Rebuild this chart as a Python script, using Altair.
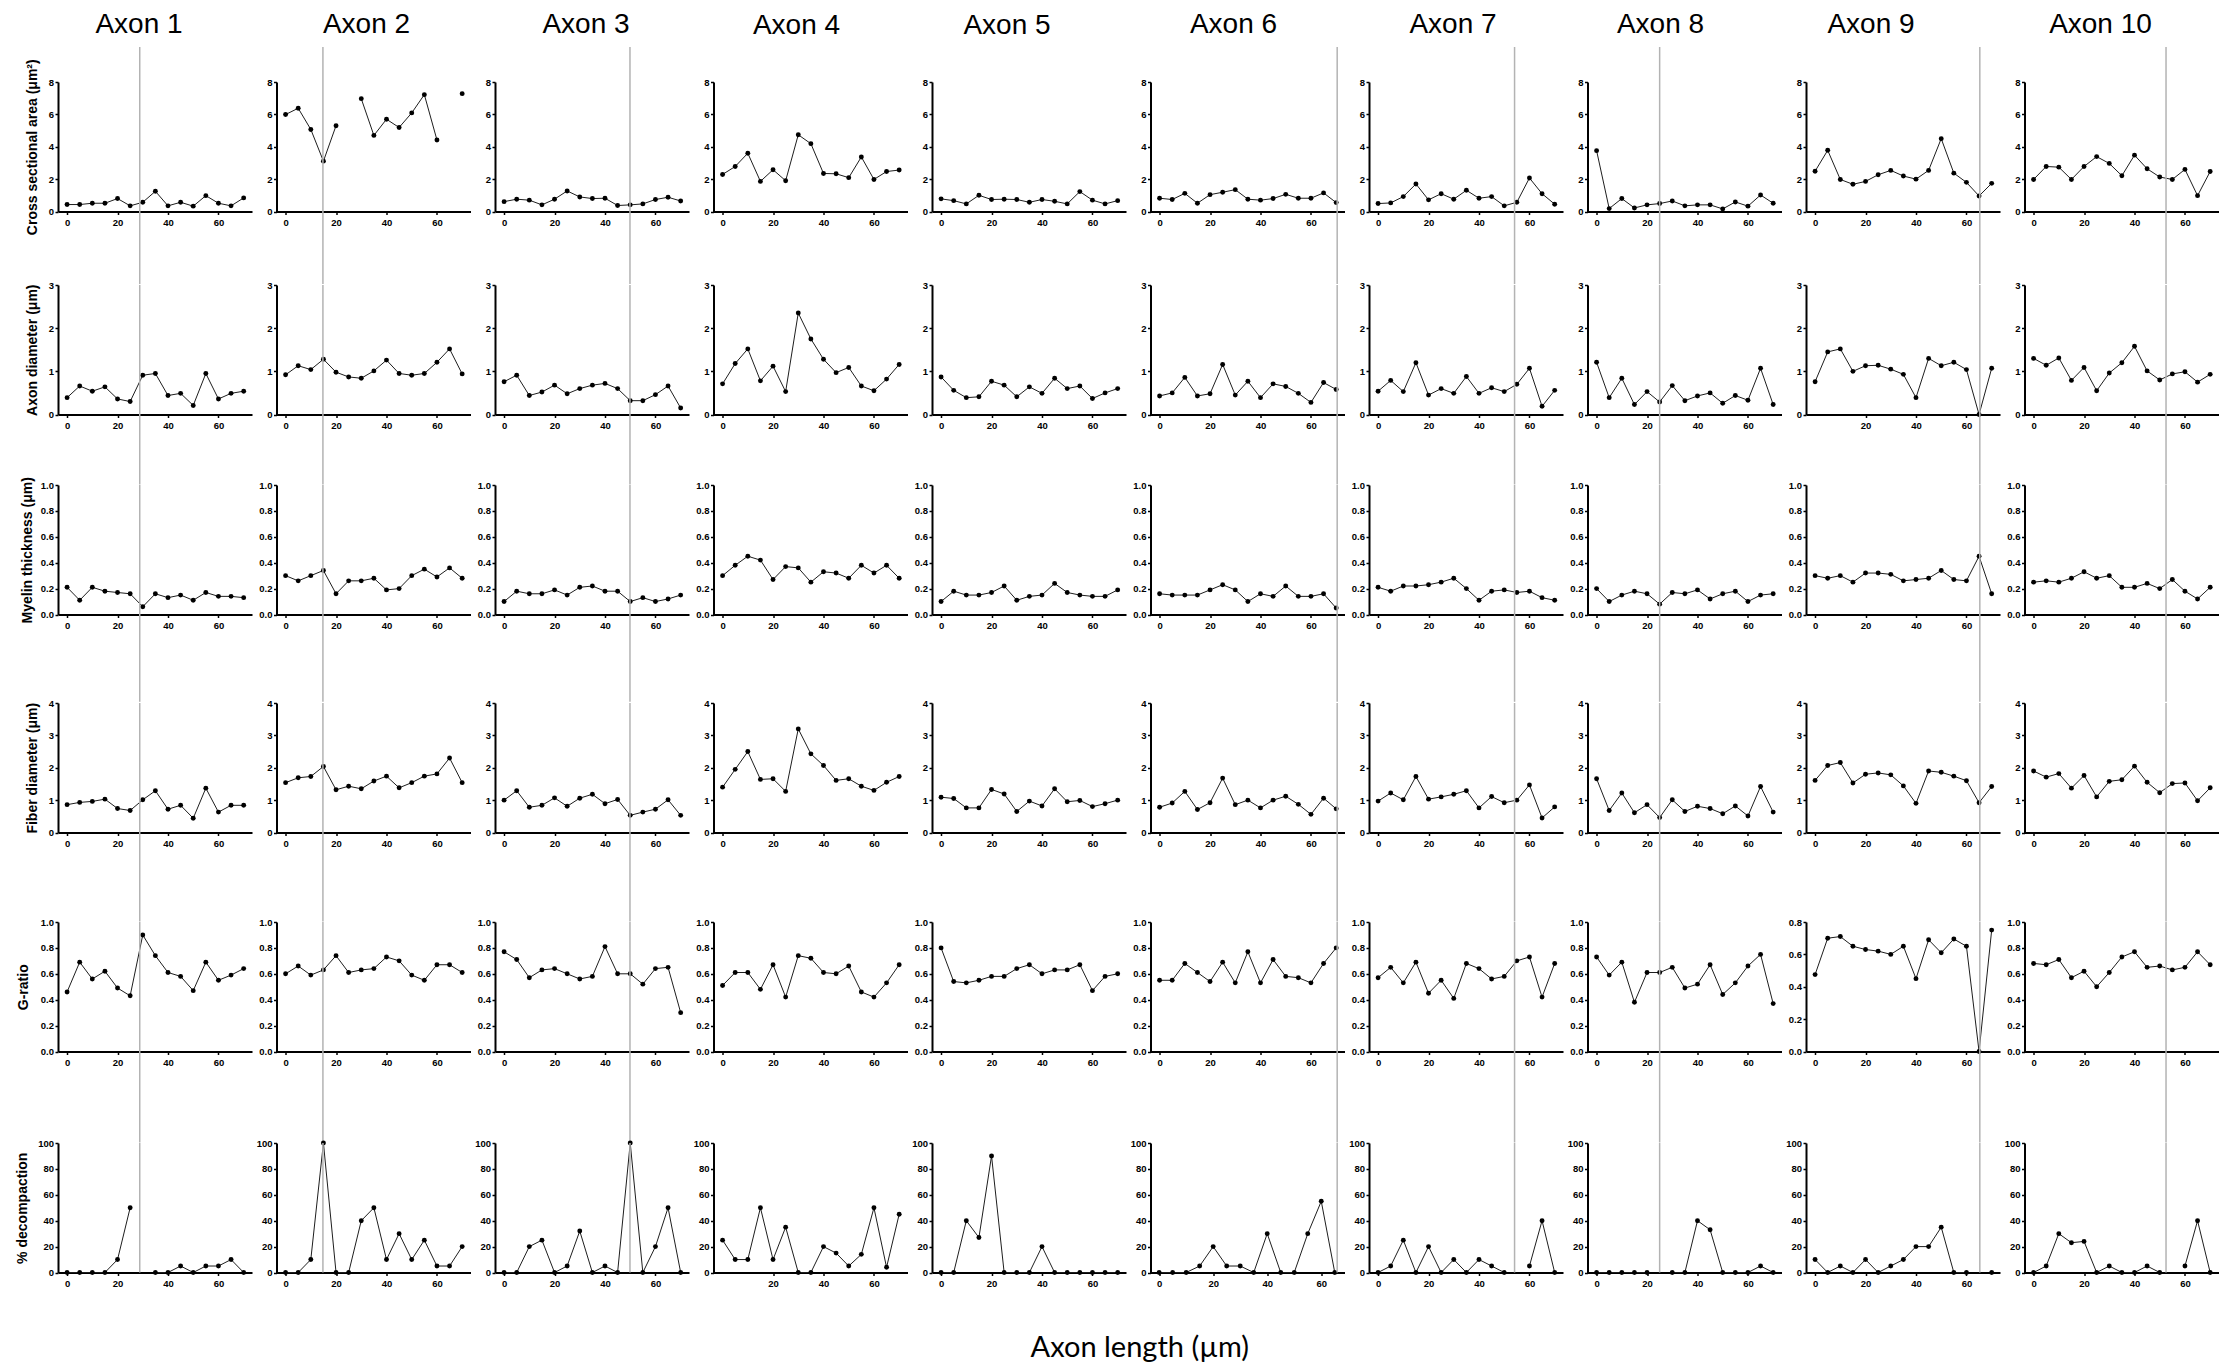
import altair as alt
import pandas as pd

# ---------------- data ----------------
X = [0, 5, 10, 15, 20, 25, 30, 35, 40, 45, 50, 55, 60, 65, 70]
AXONS = ["Axon 1", "Axon 2", "Axon 3", "Axon 4", "Axon 5",
         "Axon 6", "Axon 7", "Axon 8", "Axon 9", "Axon 10"]

# Cross sectional area (um^2); None = no measurement (gap in the line)
CSA = [
    [0.43, 0.43, 0.51, 0.51, 0.80, 0.35, 0.57, 1.25, 0.35, 0.57, 0.33, 0.98, 0.51, 0.35, 0.84],
    [5.99, 6.38, 5.07, 3.11, 5.30, None, 6.97, 4.70, 5.70, 5.19, 6.09, 7.22, 4.42, None, 7.28],
    [0.61, 0.76, 0.70, 0.41, 0.76, 1.27, 0.90, 0.80, 0.82, 0.37, 0.41, 0.47, 0.74, 0.88, 0.65],
    [2.29, 2.78, 3.60, 1.86, 2.58, 1.90, 4.74, 4.19, 2.35, 2.33, 2.09, 3.37, 1.98, 2.47, 2.56],
    [0.78, 0.67, 0.47, 1.00, 0.74, 0.76, 0.74, 0.57, 0.74, 0.63, 0.47, 1.23, 0.70, 0.47, 0.67],
    [0.82, 0.74, 1.12, 0.51, 1.04, 1.19, 1.35, 0.76, 0.70, 0.80, 1.06, 0.82, 0.82, 1.15, 0.55],
    [0.49, 0.53, 0.92, 1.70, 0.72, 1.10, 0.76, 1.31, 0.82, 0.92, 0.35, 0.57, 2.07, 1.10, 0.45],
    [3.76, 0.18, 0.80, 0.22, 0.41, 0.49, 0.65, 0.35, 0.41, 0.41, 0.16, 0.59, 0.33, 1.02, 0.51],
    [2.49, 3.78, 1.98, 1.68, 1.86, 2.27, 2.54, 2.19, 2.00, 2.54, 4.50, 2.37, 1.80, 0.96, 1.74],
    [1.98, 2.78, 2.74, 1.98, 2.78, 3.39, 2.97, 2.21, 3.48, 2.64, 2.13, 1.98, 2.60, 0.98, 2.47],
]

# Axon diameter (um)
AD = [
    [0.39, 0.66, 0.54, 0.64, 0.36, 0.30, 0.91, 0.95, 0.44, 0.49, 0.21, 0.95, 0.36, 0.49, 0.54],
    [0.92, 1.13, 1.04, 1.28, 0.98, 0.87, 0.84, 1.01, 1.26, 0.95, 0.91, 0.95, 1.21, 1.52, 0.94],
    [0.76, 0.91, 0.44, 0.52, 0.68, 0.48, 0.60, 0.68, 0.72, 0.60, 0.32, 0.32, 0.46, 0.66, 0.15],
    [0.71, 1.18, 1.52, 0.78, 1.12, 0.53, 2.35, 1.75, 1.28, 0.97, 1.09, 0.66, 0.55, 0.82, 1.16],
    [0.87, 0.56, 0.39, 0.41, 0.77, 0.68, 0.41, 0.64, 0.49, 0.84, 0.60, 0.66, 0.37, 0.50, 0.60],
    [0.43, 0.50, 0.86, 0.43, 0.48, 1.16, 0.45, 0.77, 0.39, 0.71, 0.65, 0.49, 0.28, 0.74, 0.58],
    [0.54, 0.79, 0.53, 1.20, 0.45, 0.60, 0.49, 0.88, 0.49, 0.62, 0.53, 0.70, 1.07, 0.19, 0.56],
    [1.21, 0.39, 0.84, 0.23, 0.53, 0.29, 0.67, 0.32, 0.43, 0.50, 0.26, 0.44, 0.33, 1.07, 0.23],
    [0.76, 1.45, 1.52, 1.00, 1.13, 1.14, 1.05, 0.93, 0.39, 1.30, 1.13, 1.21, 1.04, 0.00, 1.07],
    [1.30, 1.14, 1.31, 0.79, 1.09, 0.55, 0.96, 1.20, 1.58, 1.01, 0.80, 0.94, 0.99, 0.75, 0.93],
]

# Myelin thickness (um)
MT = [
    [0.21, 0.11, 0.21, 0.18, 0.17, 0.16, 0.06, 0.16, 0.13, 0.15, 0.11, 0.17, 0.14, 0.14, 0.13],
    [0.30, 0.26, 0.30, 0.34, 0.16, 0.26, 0.26, 0.28, 0.19, 0.20, 0.30, 0.35, 0.29, 0.36, 0.28],
    [0.10, 0.18, 0.16, 0.16, 0.19, 0.15, 0.21, 0.22, 0.18, 0.18, 0.10, 0.13, 0.10, 0.12, 0.15],
    [0.30, 0.38, 0.45, 0.42, 0.27, 0.37, 0.36, 0.25, 0.33, 0.32, 0.28, 0.38, 0.32, 0.38, 0.28],
    [0.10, 0.18, 0.15, 0.15, 0.17, 0.22, 0.11, 0.14, 0.15, 0.24, 0.17, 0.15, 0.14, 0.14, 0.19],
    [0.16, 0.15, 0.15, 0.15, 0.19, 0.23, 0.19, 0.10, 0.16, 0.14, 0.22, 0.14, 0.14, 0.16, 0.05],
    [0.21, 0.18, 0.22, 0.22, 0.23, 0.25, 0.28, 0.20, 0.11, 0.18, 0.19, 0.17, 0.18, 0.13, 0.11],
    [0.20, 0.10, 0.15, 0.18, 0.16, 0.08, 0.17, 0.16, 0.19, 0.12, 0.16, 0.18, 0.10, 0.15, 0.16],
    [0.30, 0.28, 0.30, 0.25, 0.32, 0.32, 0.31, 0.26, 0.27, 0.28, 0.34, 0.27, 0.26, 0.45, 0.16],
    [0.25, 0.26, 0.25, 0.28, 0.33, 0.28, 0.30, 0.21, 0.21, 0.24, 0.20, 0.27, 0.18, 0.12, 0.21],
]

# Fiber diameter (um)
FD = [
    [0.86, 0.93, 0.96, 1.03, 0.74, 0.68, 1.01, 1.29, 0.72, 0.84, 0.44, 1.37, 0.63, 0.84, 0.84],
    [1.54, 1.69, 1.73, 2.04, 1.32, 1.43, 1.35, 1.59, 1.74, 1.38, 1.54, 1.74, 1.81, 2.30, 1.54],
    [1.00, 1.29, 0.78, 0.84, 1.07, 0.81, 1.06, 1.18, 0.89, 1.02, 0.53, 0.63, 0.72, 1.01, 0.53],
    [1.40, 1.95, 2.50, 1.64, 1.66, 1.27, 3.20, 2.43, 2.07, 1.61, 1.66, 1.43, 1.30, 1.55, 1.73],
    [1.09, 1.05, 0.76, 0.76, 1.33, 1.19, 0.65, 0.97, 0.82, 1.35, 0.95, 0.99, 0.80, 0.89, 1.00],
    [0.78, 0.91, 1.27, 0.71, 0.92, 1.68, 0.86, 1.00, 0.76, 1.00, 1.12, 0.87, 0.56, 1.06, 0.73],
    [0.97, 1.22, 1.01, 1.73, 1.03, 1.10, 1.18, 1.29, 0.76, 1.11, 0.92, 1.00, 1.47, 0.45, 0.79],
    [1.66, 0.68, 1.22, 0.61, 0.86, 0.46, 1.01, 0.65, 0.81, 0.74, 0.58, 0.82, 0.51, 1.42, 0.63],
    [1.61, 2.07, 2.16, 1.53, 1.80, 1.84, 1.78, 1.44, 0.90, 1.90, 1.86, 1.74, 1.60, 0.92, 1.42],
    [1.90, 1.71, 1.82, 1.37, 1.76, 1.10, 1.58, 1.63, 2.05, 1.55, 1.23, 1.51, 1.53, 0.98, 1.38],
]

# G-ratio
GR = [
    [0.46, 0.69, 0.56, 0.62, 0.49, 0.43, 0.90, 0.74, 0.61, 0.58, 0.47, 0.69, 0.55, 0.59, 0.64],
    [0.60, 0.66, 0.59, 0.63, 0.74, 0.61, 0.63, 0.64, 0.73, 0.70, 0.59, 0.55, 0.67, 0.67, 0.61],
    [0.77, 0.71, 0.57, 0.63, 0.64, 0.60, 0.56, 0.58, 0.81, 0.60, 0.60, 0.52, 0.64, 0.65, 0.30],
    [0.51, 0.61, 0.61, 0.48, 0.67, 0.42, 0.74, 0.72, 0.61, 0.60, 0.66, 0.46, 0.42, 0.53, 0.67],
    [0.80, 0.54, 0.53, 0.55, 0.58, 0.58, 0.64, 0.67, 0.60, 0.63, 0.63, 0.67, 0.47, 0.58, 0.60],
    [0.55, 0.55, 0.68, 0.61, 0.54, 0.69, 0.53, 0.77, 0.53, 0.71, 0.58, 0.57, 0.53, 0.68, 0.80],
    [0.57, 0.65, 0.53, 0.69, 0.45, 0.55, 0.41, 0.68, 0.64, 0.56, 0.58, 0.70, 0.73, 0.42, 0.68],
    [0.73, 0.59, 0.69, 0.38, 0.61, 0.61, 0.65, 0.49, 0.52, 0.67, 0.44, 0.53, 0.66, 0.75, 0.37],
    [0.475, 0.70, 0.71, 0.65, 0.63, 0.62, 0.60, 0.65, 0.45, 0.69, 0.61, 0.695, 0.65, 0.00, 0.75],
    [0.68, 0.67, 0.71, 0.57, 0.62, 0.50, 0.61, 0.73, 0.77, 0.65, 0.66, 0.63, 0.65, 0.77, 0.67],
]

# % decompaction
DC = [
    [0, 0, 0, 0, 10, 50, None, 0, 0, 5, 0, 5, 5, 10, 0],
    [0, 0, 10, 100, 0, 0, 40, 50, 10, 30, 10, 25, 5, 5, 20],
    [0, 0, 20, 25, 0, 5, 32, 0, 5, 0, 100, 0, 20, 50, 0],
    [25, 10, 10, 50, 10, 35, 0, 0, 20, 15, 5, 14, 50, 4, 45],
    [0, 0, 40, 27, 90, 0, 0, 0, 20, 0, 0, 0, 0, 0, 0],
    [0, 0, 0, 5, 20, 5, 5, 0, 30, 0, 0, 30, 55, 0, None],
    [0, 5, 25, 0, 20, 0, 10, 0, 10, 5, 0, None, 5, 40, 0],
    [0, 0, 0, 0, 0, None, 0, 0, 40, 33, 0, 0, 0, 5, 0],
    [10, 0, 5, 0, 10, 0, 5, 10, 20, 20, 35, 0, 0, None, 0],
    [0, 5, 30, 23, 24, 0, 5, 0, 0, 5, 0, None, 5, 40, 0],
]

METRICS = [CSA, AD, MT, FD, GR, DC]
METRIC_TITLES = [
    "Cross sectional area (μm²)",
    "Axon diameter (μm)",
    "Myelin thickness (μm)",
    "Fiber diameter (μm)",
    "G-ratio",
    "% decompaction",
]
Y_DOMAINS = [[0, 8], [0, 3], [0, 1], [0, 4], [0, 1], [0, 100]]
Y_TICKS = [
    [0, 2, 4, 6, 8],
    [0, 1, 2, 3],
    [0, 0.2, 0.4, 0.6, 0.8, 1.0],
    [0, 1, 2, 3, 4],
    [0, 0.2, 0.4, 0.6, 0.8, 1.0],
    [0, 20, 40, 60, 80, 100],
]
Y_FORMATS = ["d", "d", ".1f", "d", ".1f", "d"]
X_TICKS = [0, 20, 40, 60]
X_DOMAIN = [-3.6, 73.3]

# vertical reference line per axon (axon length, um); None = no line
VLINES = [28.8, 14.8, 49.9, None, None, 70.4, 54.1, 25.0, 65.3, 52.5]

# panel exceptions seen in the figure
AXON9_GRATIO_DOMAIN = [0, 0.8]
AXON9_GRATIO_TICKS = [0, 0.2, 0.4, 0.6, 0.8]
AXON6_DECOMP_XDOMAIN = [-3.2, 68.6]
NO_ZERO_LABEL = [(1, 8), (5, 3)]  # (row, axon index) without the "0" x label

# ---------------- layout ----------------
W = 194
H = 129.5
COL_GAP = 24.5
ROW_GAPS = [72.6, 70, 87.3, 89, 91]
RULE_TOP = -35
TITLE_CENTERS = [81, 90, 91, 83, 75, 83, 84, 73, 65, 76]
Y_TITLE_PAD = [9, 9, 6, 9, 9.5, 8.5]

AX_FONT = "Liberation Sans"


def make_panel(r, a):
    vals = METRICS[r][a]
    recs = []
    seg = 0
    for xv, yv in zip(X, vals):
        if yv is None:
            seg += 1
            continue
        recs.append({"x": xv, "y": yv, "seg": seg})
    df = pd.DataFrame(recs)

    special_x = (r == 5 and a == 5)
    xdom = AXON6_DECOMP_XDOMAIN if special_x else X_DOMAIN
    if r == 4 and a == 8:
        ydom, yticks = AXON9_GRATIO_DOMAIN, AXON9_GRATIO_TICKS
    else:
        ydom, yticks = Y_DOMAINS[r], Y_TICKS[r]
    xt = X_TICKS[1:] if (r, a) in NO_ZERO_LABEL else X_TICKS

    xscale = alt.Scale(domain=xdom, nice=False, zero=False)
    x_enc = alt.X("x:Q", scale=xscale,
                  axis=alt.Axis(values=xt, format="d", labelFlush=False),
                  title=None)
    yscale = alt.Scale(domain=ydom, nice=False, zero=False)
    if a == 0:
        y_enc = alt.Y("y:Q", scale=yscale,
                      axis=alt.Axis(values=yticks, format=Y_FORMATS[r],
                                    titlePadding=Y_TITLE_PAD[r]),
                      title=METRIC_TITLES[r])
    else:
        y_enc = alt.Y("y:Q", scale=yscale,
                      axis=alt.Axis(values=yticks, format=Y_FORMATS[r]),
                      title=None)

    line = alt.Chart(df).mark_line(color="#1e1e1e", strokeWidth=1).encode(
        x=x_enc, y=y_enc, detail="seg:N")
    pts = alt.Chart(df).mark_circle(color="black", size=24, opacity=1).encode(
        x=x_enc, y=y_enc)

    v = VLINES[a]
    if v is not None and special_x:
        frac = (v - X_DOMAIN[0]) / (X_DOMAIN[1] - X_DOMAIN[0])
        v = xdom[0] + frac * (xdom[1] - xdom[0])
    rdf = pd.DataFrame({"x": [v if v is not None else 0.0]})
    top = RULE_TOP if r == 0 else 0
    bottom = H + (ROW_GAPS[r] if r < 5 else 0)
    rule = alt.Chart(rdf).mark_rule(
        color="#b3b3b3", strokeWidth=1.5,
        strokeOpacity=1 if VLINES[a] is not None else 0,
    ).encode(x=alt.X("x:Q", scale=xscale), y=alt.value(top), y2=alt.value(bottom))

    layer = alt.layer(line, pts, rule).properties(width=W, height=H)
    if r == 0:
        layer = layer.properties(title=alt.TitleParams(
            text=AXONS[a], font=AX_FONT, fontSize=28, fontWeight="normal",
            color="black", anchor="middle", frame="group", offset=-15,
            baseline="alphabetic", dx=TITLE_CENTERS[a] - W / 2))
    return layer


def spacer(h):
    return alt.Chart(pd.DataFrame({"v": [0]})).mark_point(opacity=0).encode(
        x=alt.value(0), y=alt.value(0)).properties(width=1, height=h)


cells = []
for r in range(6):
    cells += [make_panel(r, a) for a in range(10)]
    if r < 5:
        cells += [spacer(ROW_GAPS[r]) for _ in range(10)]

chart = alt.concat(
    *cells, columns=10, spacing={"row": 0, "column": COL_GAP},
    bounds="flush", align={"row": "each", "column": "each"},
    title=alt.TitleParams(
        text="Axon length (µm)", orient="bottom", anchor="middle",
        offset=68, baseline="alphabetic", font="Lato", fontSize=29,
        fontWeight="normal", color="black", dx=23),
).properties(
    padding={"left": 14, "top": 10, "right": 5, "bottom": 5},
    background="white",
).configure_view(
    stroke="transparent"
).configure_axis(
    grid=False, domainColor="black", domainWidth=2,
    tickColor="black", tickWidth=1.5, tickSize=3,
    labelFont=AX_FONT, labelFontWeight="bold", labelFontSize=9.5,
    labelColor="black", titleFont=AX_FONT, titleFontWeight="bold",
    titleFontSize=14, titleColor="black",
).configure_axisX(
    labelPadding=3
).configure_axisY(
    labelPadding=1.5
)

chart.save("out.html", embed_options={"renderer": "svg", "actions": False})
